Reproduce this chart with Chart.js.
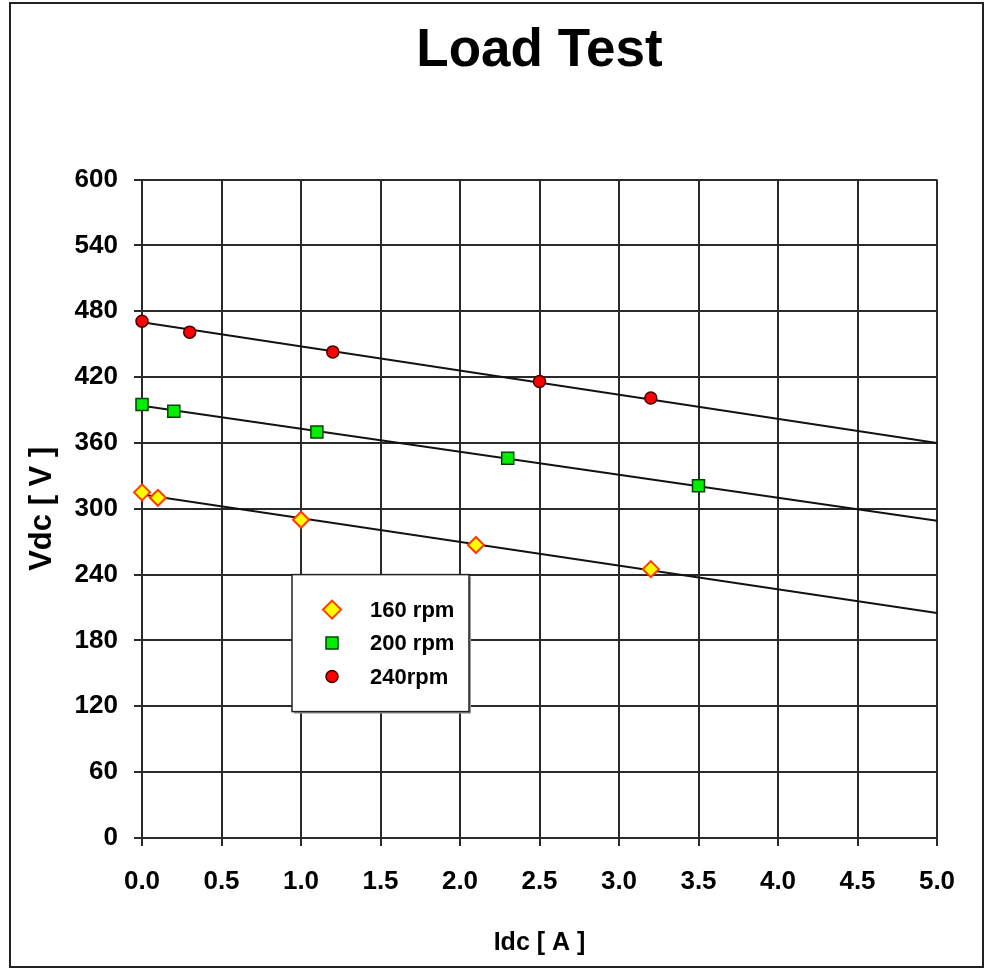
<!DOCTYPE html>
<html>
<head>
<meta charset="utf-8">
<title>Load Test</title>
<script src="https://cdn.jsdelivr.net/npm/chart.js@4.4.0/dist/chart.umd.min.js"></script>
<style>
    html, body { margin: 0; padding: 0; background: #fff; }
    #wrap { position: relative; width: 988px; height: 969px; }
    #frame {
        position: absolute; left: 9px; top: 2px; width: 971px; height: 962px;
        border: 2px solid #222; pointer-events: none;
    }
    canvas { position: absolute; left: 0; top: 0; }
</style>
</head>
<body>
<div id="wrap">
    <canvas id="chart" width="988" height="969"></canvas>
    <div id="frame"></div>
</div>
<script>
// measured points, Idc [A] vs Vdc [V]
const idc160 = [0.0, 0.1, 1.0, 2.1, 3.2];
const vdc160 = [315, 310, 290, 267, 245];
const idc200 = [0.0, 0.2, 1.1, 2.3, 3.5];
const vdc200 = [395, 389, 370, 346, 321];
const idc240 = [0.0, 0.3, 1.2, 2.5, 3.2];
const vdc240 = [471, 461, 443, 416, 401];

// trend line end points
const trendIdc = [0, 5];
const trend160 = [313, 205];
const trend200 = [394, 289];
const trend240 = [470, 360];

const seriesLabels = ['160 rpm', '200 rpm', '240rpm'];

const FONT = "'Liberation Sans', Arial, sans-serif";

function toPoints(xs, ys) {
    return xs.map((x, i) => ({x: x, y: ys[i]}));
}

const markerStyles = [
    {pointStyle: 'rectRot', radius: 8, fill: '#ffff00', stroke: '#ff3a00', width: 2},
    {pointStyle: 'rect', radius: 8.5, fill: '#00ee00', stroke: '#004400', width: 1.5},
    {pointStyle: 'circle', radius: 6, fill: '#ff0000', stroke: '#440000', width: 1.5}
];

function scatterSet(label, xs, ys, st) {
    return {
        type: 'scatter',
        label: label,
        data: toPoints(xs, ys),
        pointStyle: st.pointStyle,
        pointRadius: st.radius,
        pointBackgroundColor: st.fill,
        pointBorderColor: st.stroke,
        pointBorderWidth: st.width,
        clip: false,
        order: 0
    };
}

function trendSet(ys) {
    return {
        type: 'line',
        label: 'trend',
        data: toPoints(trendIdc, ys),
        borderColor: '#111',
        borderWidth: 2,
        pointRadius: 0,
        fill: false,
        order: 1
    };
}

function drawMarker(ctx, st, x, y) {
    ctx.save();
    ctx.fillStyle = st.fill;
    ctx.strokeStyle = st.stroke;
    ctx.lineWidth = st.width;
    ctx.beginPath();
    if (st.pointStyle === 'rectRot') {
        const r = st.radius + 1;
        ctx.moveTo(x, y - r);
        ctx.lineTo(x + r, y);
        ctx.lineTo(x, y + r);
        ctx.lineTo(x - r, y);
        ctx.closePath();
    } else if (st.pointStyle === 'rect') {
        const h = st.radius * Math.SQRT1_2;
        ctx.rect(x - h, y - h, 2 * h, 2 * h);
    } else {
        ctx.arc(x, y, st.radius, 0, Math.PI * 2);
    }
    ctx.fill();
    ctx.stroke();
    ctx.restore();
}

// boxed legend inside the plot, like the original
const boxLegend = {
    id: 'boxLegend',
    afterDraw(chart) {
        const {ctx, chartArea} = chart;
        const left = chartArea.left + 150;
        const top = chartArea.top + 395;
        const w = 177, h = 137;
        ctx.save();
        ctx.fillStyle = '#999';
        ctx.fillRect(left + 2, top + 2, w, h);
        ctx.fillStyle = '#fff';
        ctx.fillRect(left, top, w, h);
        ctx.strokeStyle = '#222';
        ctx.lineWidth = 1.5;
        ctx.strokeRect(left, top, w, h);
        ctx.font = "bold 22px " + FONT;
        ctx.fillStyle = '#000';
        ctx.textBaseline = 'middle';
        seriesLabels.forEach((lbl, i) => {
            const y = top + 35 + i * 33.5;
            drawMarker(ctx, markerStyles[i], left + 40, y);
            ctx.fillText(lbl, left + 78, y + 1);
        });
        ctx.restore();
    }
};

const ctx = document.getElementById('chart');
new Chart(ctx, {
    data: {
        datasets: [
            scatterSet(seriesLabels[0], idc160, vdc160, markerStyles[0]),
            scatterSet(seriesLabels[1], idc200, vdc200, markerStyles[1]),
            scatterSet(seriesLabels[2], idc240, vdc240, markerStyles[2]),
            trendSet(trend160),
            trendSet(trend200),
            trendSet(trend240)
        ]
    },
    options: {
        responsive: false,
        animation: false,
        layout: {
            padding: {left: 12, right: 51, top: 0, bottom: 0}
        },
        plugins: {
            legend: {display: false},
            tooltip: {enabled: false},
            title: {
                display: true,
                fullSize: false,
                text: 'Load Test',
                color: '#000',
                font: {family: FONT, size: 53, weight: 'bold'},
                padding: {top: 20, bottom: 96}
            }
        },
        scales: {
            x: {
                type: 'linear',
                min: 0,
                max: 5,
                afterFit(scale) { scale.height = 131; },
                ticks: {
                    stepSize: 0.5,
                    color: '#000',
                    padding: 20,
                    font: {family: FONT, size: 26, weight: 'bold'},
                    callback: v => v.toFixed(1)
                },
                grid: {color: '#2a2a2a', lineWidth: 2, tickLength: 8},
                border: {color: '#2a2a2a', width: 2},
                title: {
                    display: true,
                    text: 'Idc [ A ]',
                    color: '#000',
                    font: {family: FONT, size: 25, weight: 'bold'},
                    padding: {top: 0, bottom: 11}
                }
            },
            y: {
                type: 'linear',
                min: 0,
                max: 600,
                afterFit(scale) { scale.width = 130; },
                ticks: {
                    stepSize: 60,
                    color: '#000',
                    padding: 16,
                    font: {family: FONT, size: 26, weight: 'bold'}
                },
                grid: {color: '#2a2a2a', lineWidth: 2, tickLength: 8},
                border: {color: '#2a2a2a', width: 2},
                title: {
                    display: true,
                    text: 'Vdc [ V ]',
                    color: '#000',
                    font: {family: FONT, size: 31, weight: 'bold'},
                    padding: {top: 12, bottom: 0}
                }
            }
        }
    },
    plugins: [boxLegend]
});
</script>
</body>
</html>
